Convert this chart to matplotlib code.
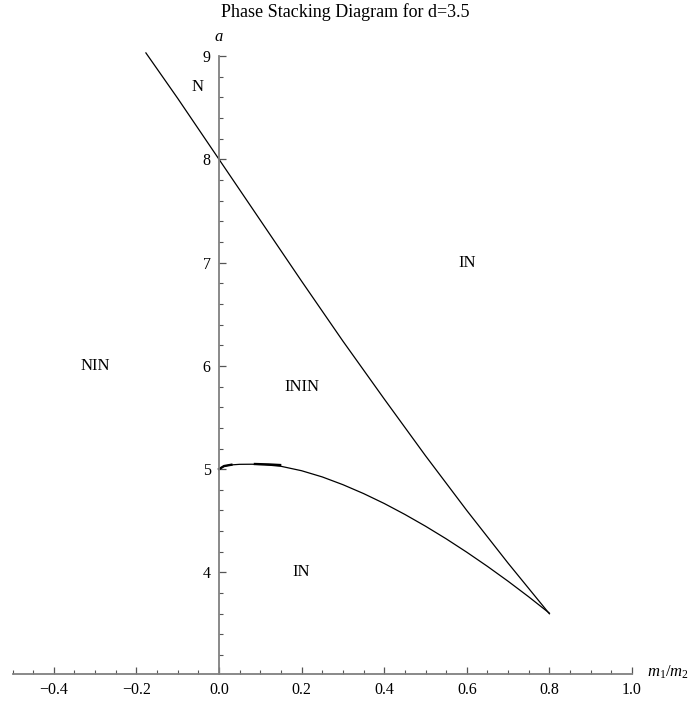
import matplotlib
matplotlib.use('Agg')
import matplotlib.pyplot as plt
from matplotlib.ticker import FixedLocator, MultipleLocator

plt.rcParams['font.family'] = ['Liberation Serif', 'DejaVu Serif']
plt.rcParams['mathtext.fontset'] = 'custom'
plt.rcParams['mathtext.rm'] = 'Liberation Serif'
plt.rcParams['mathtext.it'] = 'Liberation Serif:italic'

# ---- data ----
upper_x = [-0.177, -0.1, 0.0, 0.1, 0.2, 0.3, 0.4, 0.5, 0.6, 0.7, 0.8]
upper_a = [9.03, 8.59, 8.0, 7.41, 6.82, 6.24, 5.68, 5.13, 4.60, 4.09, 3.60]

lower_x = [0.0, 0.01, 0.025, 0.05, 0.08, 0.11, 0.15, 0.2, 0.25, 0.3, 0.35,
           0.4, 0.45, 0.5, 0.55, 0.6, 0.65, 0.7, 0.75, 0.8]
lower_a = [5.0, 5.025, 5.04, 5.047, 5.048, 5.043, 5.028, 4.985, 4.925, 4.850,
           4.764, 4.668, 4.562, 4.448, 4.326, 4.196, 4.059, 3.915, 3.764, 3.606]

# short overdrawn pieces near the top of the lower curve
blip1_x = [0.0, 0.012, 0.03]
blip1_a = [5.0, 5.03, 5.043]
blip2_x = [0.087, 0.12, 0.148]
blip2_a = [5.05, 5.046, 5.04]

region_labels = ['N', 'IN', 'NIN', 'ININ', 'IN']
region_x = [-0.053, 0.6, -0.3, 0.2, 0.2]
region_a = [8.7, 7.0, 6.0, 5.8, 4.0]

xticks = [-0.4, -0.2, 0.0, 0.2, 0.4, 0.6, 0.8, 1.0]
xtick_labels = ['\u22120.4', '\u22120.2', '0.0', '0.2', '0.4', '0.6', '0.8', '1.0']
yticks = [4, 5, 6, 7, 8, 9]
ytick_labels = ['4', '5', '6', '7', '8', '9']

title = 'Phase Stacking Diagram for d=3.5'

# ---- figure ----
W, H = 691, 707
fig = plt.figure(figsize=(W / 100, H / 100), dpi=100)
x0px, x1px = 12.5, 632.0
ytop, ybot = 56.0, 673.7
ax = fig.add_axes([x0px / W, 1 - ybot / H, (x1px - x0px) / W, (ybot - ytop) / H])
ax.set_xlim(-0.5, 1.0)
ax.set_ylim(3.02, 9.0)

axis_col = '#808080'
tick_col = '#555555'
for s in ['top', 'right']:
    ax.spines[s].set_visible(False)
ax.spines['left'].set_position(('data', 0.0))
for s in ['left', 'bottom']:
    ax.spines[s].set_color(axis_col)
    ax.spines[s].set_linewidth(1.3)
ax.patch.set_visible(False)

ax.xaxis.set_major_locator(FixedLocator(xticks))
ax.set_xticklabels(xtick_labels)
ax.xaxis.set_minor_locator(MultipleLocator(0.05))
ax.yaxis.set_major_locator(FixedLocator(yticks))
ax.set_yticklabels(ytick_labels)
ax.yaxis.set_minor_locator(MultipleLocator(0.2))
ax.tick_params(which='major', direction='in', length=5, width=0.9, color=tick_col,
               labelsize=11.5, pad=6)
ax.tick_params(which='minor', direction='in', length=3, width=0.8, color=tick_col)

ax.plot(upper_x, upper_a, color='black', lw=0.9, clip_on=False)
ax.plot(lower_x, lower_a, color='black', lw=0.9, clip_on=False)
ax.plot(blip1_x, blip1_a, color='black', lw=1.7)
ax.plot(blip2_x, blip2_a, color='black', lw=1.7)

for t, x, a in zip(region_labels, region_x, region_a):
    ax.text(x, a, t, ha='center', va='center', fontsize=12)

fig.text(0.5, 1 - 12 / H, title, ha='center', va='center', fontsize=13)
fig.text(219 / W, 1 - 37 / H, r'$a$', ha='center', va='center', fontsize=12)
fig.text(647 / W, 1 - 672 / H, r'$m_1/m_2$', ha='left', va='center', fontsize=12)

fig.savefig('out.png', dpi=100)
